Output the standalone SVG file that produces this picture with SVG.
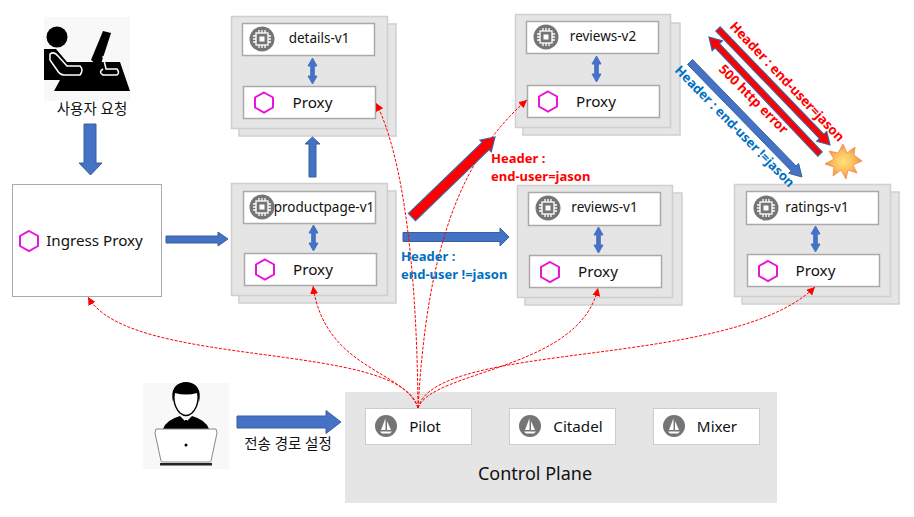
<svg xmlns="http://www.w3.org/2000/svg" width="914" height="517" viewBox="0 0 914 517">
<style>
text{font-family:"Noto Sans","Noto Sans CJK KR",sans-serif;fill:#111}
.t{font-size:13.500px;text-anchor:middle}
.p{font-size:15.200px;text-anchor:middle}
.k{font-size:14.500px;text-anchor:middle}
.pane{fill:#e5e5e5;stroke:#cfcfcf;stroke-width:1.5}
.in{fill:#fff;stroke:#aaa;stroke-width:1.5}
.hex{fill:none;stroke:#e815d8;stroke-width:2}
.chip{fill:#757575}
.chipi{fill:none;stroke:#fff;stroke-width:1.3}
.dbl{fill:#4472c4;stroke:#4472c4;stroke-width:1}
.blue{fill:#4472c4;stroke:#3a5f9f;stroke-width:1}
.red{fill:#f00;stroke:#3f5f9f;stroke-width:1.2}
.dash{fill:none;stroke:#f00;stroke-width:1;stroke-dasharray:3 1.5;marker-end:url(#a)}
.hr{font-size:13px;font-weight:700;fill:#f00}
.hb{font-size:13px;font-weight:700;fill:#0070c0}
</style>
<defs>
<marker id="a" markerWidth="9" markerHeight="9" refX="8" refY="4" orient="auto" markerUnits="userSpaceOnUse"><path d="M0 0L8 4L0 8Z" fill="#f00"/></marker>
<radialGradient id="boom"><stop offset="0" stop-color="#ffe27a"/><stop offset=".55" stop-color="#fbbf5c"/><stop offset="1" stop-color="#f08c4a"/></radialGradient>
<g id="chip"><circle r="12.5" class="chip"/><rect x="-6" y="-6" width="12" height="12" class="chipi"/><rect x="-2.500" y="-2.500" width="5" height="5" fill="#fff"/><path d="M-3-9V-6M0-9V-6M3-9V-6M-3 6V9M0 6V9M3 6V9M-9-3H-6M-9 0H-6M-9 3H-6M6-3H9M6 0H9M6 3H9" class="chipi" stroke-width="1"/></g>
<path id="hexa" class="hex" d="M0-10L9-5V5L0 10L-9 5V-5Z"/>
<path id="updown" class="dbl" d="M0-13L4.500-5H1.800V5H4.500L0 13L-4.500 5H-1.800V-5H-4.500Z"/>
<g id="sail"><circle r="11" fill="#757575"/><path d="M-.5-8L-5 4H-.5ZM1-5L5 4H1ZM-6 5.500H6L4 7.500H-4Z" fill="#fff"/></g>
</defs>

<g id="user-request">
<rect x="44" y="17" width="86" height="84" fill="#f8f8f8"/>
<circle cx="57" cy="37" r="10.500" fill="#000"/>
<path d="M44 49H56L67 62H120L130 91H54L60 80H44Z" fill="#000"/>
<path d="M91 60L103 31L111 33L100 67Z" fill="#000"/>
<path d="M50 54Q54 51 58 56L67 66H80Q84 70 80 75H64Q60 75 57 70L50 60Z" fill="none" stroke="#fff" stroke-width="1.500"/>
<path d="M103 56L106 69H117Q120 73 117 75H103Q98 72 103 69" fill="none" stroke="#fff" stroke-width="1.500"/>
<text class="k" x="92" y="114">사용자 요청</text>
</g>

<g id="ingress-proxy">
<rect x="12.500" y="184.500" width="149" height="112" fill="#fff" stroke="#aaa" stroke-width="1"/>
<use href="#hexa" transform="translate(29 241)"/>
<text class="p" x="94.500" y="246">Ingress Proxy</text>
</g>

<g id="details-v1">
<rect class="pane" x="239" y="24" width="157" height="112"/><rect class="pane" x="231.500" y="16.500" width="156" height="112"/>
<rect class="in" x="242.500" y="23.500" width="132" height="32"/>
<use href="#chip" transform="translate(262 39)"/>
<text class="t" x="319" y="43">details-v1</text>
<use href="#updown" transform="translate(312.500 71)"/>
<rect class="in" x="243.500" y="86.500" width="132" height="32"/>
<use href="#hexa" transform="translate(264 102.500)"/>
<text class="p" x="312.500" y="108">Proxy</text>
</g>

<g id="productpage-v1">
<rect class="pane" x="239" y="191" width="157" height="112"/><rect class="pane" x="231.500" y="183.500" width="156" height="112"/>
<rect class="in" x="243.500" y="191.500" width="132" height="32"/>
<use href="#chip" transform="translate(262 207)"/>
<text class="t" x="324" y="212">productpage-v1</text>
<use href="#updown" transform="translate(313.500 238)"/>
<rect class="in" x="244.500" y="253.500" width="132" height="32"/>
<use href="#hexa" transform="translate(265 269.500)"/>
<text class="p" x="313" y="275">Proxy</text>
</g>

<g id="reviews-v2">
<rect class="pane" x="523" y="23" width="157" height="112"/><rect class="pane" x="515.500" y="14.500" width="155" height="113"/>
<rect class="in" x="526.500" y="21.500" width="132" height="32"/>
<use href="#chip" transform="translate(546 37)"/>
<text class="t" x="603" y="41">reviews-v2</text>
<use href="#updown" transform="translate(596.500 69)"/>
<rect class="in" x="527.500" y="85.500" width="132" height="32"/>
<use href="#hexa" transform="translate(548 101.500)"/>
<text class="p" x="596" y="107">Proxy</text>
</g>

<g id="reviews-v1">
<rect class="pane" x="525" y="193" width="157" height="112"/><rect class="pane" x="517.500" y="185.500" width="155" height="112"/>
<rect class="in" x="528.500" y="192.500" width="132" height="33"/>
<use href="#chip" transform="translate(548 208)"/>
<text class="t" x="604.500" y="212">reviews-v1</text>
<use href="#updown" transform="translate(598.500 240)"/>
<rect class="in" x="529.500" y="255.500" width="132" height="32"/>
<use href="#hexa" transform="translate(550 272)"/>
<text class="p" x="598" y="277">Proxy</text>
</g>

<g id="ratings-v1">
<rect class="pane" x="742" y="192" width="157" height="112"/><rect class="pane" x="734.500" y="184.500" width="156" height="112"/>
<rect class="in" x="746.500" y="191.500" width="132" height="33"/>
<use href="#chip" transform="translate(766 208)"/>
<text class="t" x="817" y="212">ratings-v1</text>
<use href="#updown" transform="translate(815.500 239)"/>
<rect class="in" x="747.500" y="254.500" width="132" height="32"/>
<use href="#hexa" transform="translate(768 271)"/>
<text class="p" x="815.500" y="276">Proxy</text>
</g>

<g id="operator">
<rect x="143" y="383" width="86" height="86" fill="#f8f8f8"/>
<path d="M163 429Q166 420 180 416L186 422L192 416Q206 420 209 429Z" fill="#000"/>
<path d="M174 400Q172 383 186 383Q200 383 198 400Q197 408 192 413Q186 418 180 413Q175 408 174 400Z" fill="#fff" stroke="#000" stroke-width="1.500"/>
<path d="M173 402Q169 384 186 382Q203 384 199 402L197 393Q186 396 175 393Z" fill="#000"/>
<path d="M185 420H187L188 429H184Z" fill="#000"/>
<path d="M156 429H216L217 433L211 461Q211 462 209 462H163Q161 462 161 461L155 433Z" fill="#fff" stroke="#888" stroke-width="1"/>
<circle cx="186" cy="445" r="1.500" fill="#000"/>
<rect x="160" y="463" width="52" height="2.500" fill="#222"/>
</g>

<g id="control-plane">
<rect x="345" y="392" width="432" height="111" fill="#e5e5e5"/>
<text x="535" y="480" text-anchor="middle" style="font-size:18px">Control Plane</text>
</g>
<g id="pilot">
<rect x="365.500" y="408.500" width="106" height="36" fill="#fff" stroke="#ccc"/>
<use href="#sail" transform="translate(386 426)"/>
<text class="p" x="425" y="432">Pilot</text>
</g>
<g id="citadel">
<rect x="509.500" y="408.500" width="106" height="36" fill="#fff" stroke="#ccc"/>
<use href="#sail" transform="translate(530 426)"/>
<text class="p" x="578" y="432">Citadel</text>
</g>
<g id="mixer">
<rect x="653.500" y="408.500" width="106" height="36" fill="#fff" stroke="#ccc"/>
<use href="#sail" transform="translate(674 426)"/>
<text class="p" x="717" y="432">Mixer</text>
</g>

<g id="connectors">
<path class="blue" d="M84 124H96V163H102L90.500 175L79 163H84Z"/>
<path class="blue" d="M166 236H218V232L228 239L218 246V243H166Z"/>
<path class="blue" d="M309 177V144H305L312.500 137L320 144H316V177Z"/>
<path class="blue" d="M403 232.500H500V228L509 237L500 246V241.500H403Z"/>
<path class="blue" d="M237 416H326V410.500L341 422L326 433.500V428H237Z"/>
<path class="red" d="M408.500 213.400L482.100 142.400L480 140.200L495 137L491.200 151.800L489.100 149.600L415.500 220.600Z"/>
<path class="red" d="M720.200 26.900L823.900 134.300L826.700 131.500L830 145L816.700 141.300L819.500 138.500L715.800 31.100Z"/>
<path class="red" d="M822.200 151.900L719.500 43.600L722.400 40.900L709 37L712.200 50.500L715.100 47.800L817.800 156.100Z"/>
<path class="blue" d="M692.500 59.550L796.100 165.950L798.600 163.500L802 177L788.600 173.300L791.100 170.850L687.500 64.450Z"/>
<path d="M843 144L847 153L855 147L854 155L862 161L853 165L857 173L848 170L846 179L841 170L833 176L834 167L825 164L834 159L829 151L838 153Z" fill="url(#boom)" stroke="#f08c4a" stroke-width=".8"/>
<path class="dash" d="M418 408C417 280 405 160 376 103"/>
<path class="dash" d="M418 408C425 290 445 170 527 100"/>
<path class="dash" d="M418 408C405 370 325 370 313 286"/>
<path class="dash" d="M418 408C432 370 580 370 598 288"/>
<path class="dash" d="M418 408C400 340 130 370 88 297"/>
<path class="dash" d="M418 408C435 340 730 370 815 287"/>
</g>

<g id="labels">
<text class="hr" x="491" y="163">Header :</text>
<text class="hr" x="491" y="181">end-user=jason</text>
<text class="hb" x="401" y="261">Header :</text>
<text class="hb" x="401" y="279">end-user !=jason</text>
<text class="hr" transform="translate(729 27) rotate(46.500)" style="font-size:13.200px">Header : end-user=jason</text>
<text class="hr" transform="translate(718 70) rotate(45)" style="font-size:13.200px">500 http error</text>
<text class="hb" transform="translate(674 71) rotate(45.500)">Header : end-user !=jason</text>
<text class="k" x="288" y="449">전송 경로 설정</text>
</g>
</svg>
